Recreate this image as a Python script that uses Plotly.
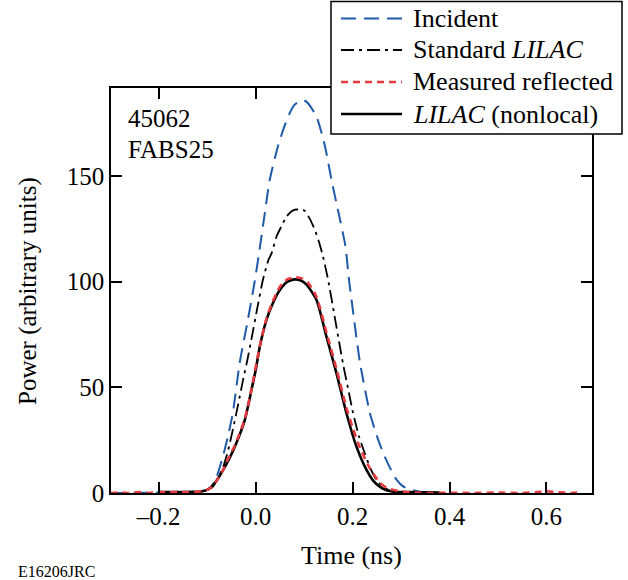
import plotly.graph_objects as go

# ---------------- data ----------------
t_incident = [-0.30, -0.25, -0.20, -0.15, -0.12, -0.10, -0.09, -0.08, -0.068, -0.057,
              -0.047, -0.033, -0.016, -0.002, 0.009, 0.019, 0.029, 0.046, 0.058, 0.070,
              0.080, 0.091, 0.100, 0.108, 0.1255, 0.143, 0.1565, 0.171, 0.185, 0.193,
              0.202, 0.215, 0.2355, 0.250, 0.263, 0.277, 0.291, 0.305, 0.324, 0.34, 0.35]
p_incident = [0.0, 0.0, 0.3, 0.5, 0.8, 1.5, 3.5, 8.0, 17.0, 27.0,
              38.0, 61.5, 82.0, 100.0, 116.6, 132.5, 148.0, 164.0, 172.5, 179.5,
              183.5, 185.3, 185.6, 184.3, 178.0, 164.0, 148.0, 132.5, 117.0, 100.0,
              84.0, 62.0, 38.0, 27.0, 19.0, 12.0, 6.2, 3.0, 1.4, 0.6, 0.3]

t_standard = [-0.20, -0.15, -0.12, -0.10, -0.088, -0.078, -0.067, -0.057, -0.047, -0.036,
              -0.026, -0.017, -0.009, 0.003, 0.015, 0.026, 0.033, 0.043, 0.054, 0.064,
              0.073, 0.081, 0.092, 0.101, 0.112, 0.122, 0.131, 0.139, 0.1495, 0.163,
              0.180, 0.191, 0.201, 0.213, 0.225, 0.237, 0.249, 0.265, 0.283, 0.30, 0.33]
p_standard = [0.5, 0.5, 0.6, 1.2, 3.0, 7.0, 12.4, 20.0, 30.0, 42.0,
              53.5, 63.0, 72.4, 87.0, 100.8, 110.0, 113.4, 121.3, 126.5, 130.8,
              133.0, 134.0, 134.0, 133.5, 129.5, 124.5, 118.5, 111.8, 100.8, 83.4,
              61.4, 49.0, 37.7, 27.0, 18.8, 11.5, 6.2, 2.5, 0.6, 0.3, 0.2]

t_measured = [-0.30, -0.28, -0.26, -0.24, -0.22, -0.20, -0.18, -0.16, -0.14, -0.12,
              -0.11, -0.10, -0.09, -0.08, -0.067, -0.055, -0.043, -0.0225, -0.0087, 0.0085,
              0.0223, 0.035, 0.050, 0.065, 0.081, 0.095, 0.108, 0.126, 0.146, 0.167,
              0.187, 0.200, 0.215, 0.236, 0.256, 0.27, 0.29, 0.31, 0.33, 0.36,
              0.40, 0.45, 0.50, 0.55, 0.58, 0.60, 0.62, 0.65, 0.67]
p_measured = [0.0, 0.3, 0.0, 0.4, 0.0, 0.5, 0.3, 0.5, 0.4, 0.6,
              1.0, 1.5, 3.0, 6.0, 11.0, 17.0, 22.5, 35.0, 49.0, 69.5,
              82.5, 90.5, 97.5, 101.0, 102.0, 101.5, 99.5, 92.5, 76.0, 58.5,
              40.5, 31.0, 21.5, 11.5, 5.0, 2.5, 1.2, 0.5, 0.2, 0.0,
              0.1, 0.0, 0.2, 0.0, 0.4, 0.8, 0.4, 0.0, 0.3]

t_nonlocal = [-0.20, -0.15, -0.12, -0.115, -0.10, -0.091, -0.08, -0.067, -0.055, -0.043,
              -0.0225, -0.0087, 0.0, 0.0085, 0.0223, 0.035, 0.0498, 0.065, 0.081, 0.093,
              0.105, 0.1255, 0.146, 0.1668, 0.1874, 0.208, 0.2287, 0.242, 0.256, 0.27,
              0.29, 0.32, 0.35, 0.38]
p_nonlocal = [0.5, 0.5, 0.5, 0.6, 1.5, 3.0, 6.0, 10.9, 16.0, 21.9,
              34.5, 48.7, 58.0, 69.2, 81.9, 89.5, 96.0, 99.8, 101.0, 100.5,
              98.5, 91.3, 74.0, 56.6, 37.7, 21.9, 10.9, 6.0, 3.0, 1.3,
              0.5, 0.4, 0.3, 0.2]

x_tickvals = [-0.2, 0.0, 0.2, 0.4, 0.6]
x_ticktext = ["\u20130.2", "0.0", "0.2", "0.4", "0.6"]
y_tickvals = [0, 50, 100, 150]
y_ticktext = ["0", "50", "100", "150"]

legend_names = ["Incident", "Standard <i>LILAC</i>", "Measured reflected", "<i>LILAC</i> (nonlocal)"]

# ---------------- styles ----------------
FONT = "Liberation Serif"
BLUE = "#1f5ba8"
RED = "#e8393f"
BLACK = "#000000"
styles = [
    dict(color=BLUE, width=2, dash="15px,8px"),
    dict(color=BLACK, width=1.8, dash="13px,5px,3px,5px"),
    dict(color=RED, width=2.6, dash="7px,5px"),
    dict(color=BLACK, width=2.6, dash="solid"),
]

fig = go.Figure()
fig.add_trace(go.Scatter(x=t_incident, y=p_incident, mode="lines", line=dict(**styles[0], shape="spline", smoothing=0.6)))
fig.add_trace(go.Scatter(x=t_standard, y=p_standard, mode="lines", line=dict(**styles[1], shape="spline", smoothing=0.5)))
fig.add_trace(go.Scatter(x=t_nonlocal, y=p_nonlocal, mode="lines", line=dict(**styles[3], shape="spline", smoothing=0.6)))
fig.add_trace(go.Scatter(x=t_measured, y=p_measured, mode="lines", line=dict(**styles[2], shape="spline", smoothing=0.6)))

axis_common = dict(
    showline=True, linecolor="black", linewidth=1.5, mirror="allticks",
    ticks="inside", ticklen=11, tickwidth=1.5, tickcolor="black",
    showgrid=False, zeroline=False,
    tickfont=dict(family=FONT, size=25, color="black"),
)
fig.update_xaxes(range=[-0.2985, 0.694], tickvals=x_tickvals, ticktext=x_ticktext, **axis_common)
fig.update_yaxes(range=[0, 191.5], tickvals=y_tickvals, ticktext=y_ticktext, **axis_common)

L, R, T, B = 111, 36, 88, 87
W, H = 628, 580
pw, ph = W - L - R, H - T - B
def px(xp):
    return (xp - L) / pw
def py(yp):
    return (H - B - yp) / ph

shapes = [dict(type="rect", xref="paper", yref="paper", x0=px(331), x1=px(622), y0=py(134), y1=py(1.5),
               fillcolor="white", line=dict(color="black", width=1.5), layer="above")]
annotations = []
row_y = [18.5, 50, 82, 114]
for name, st, ry in zip(legend_names, styles, row_y):
    shapes.append(dict(type="line", xref="paper", yref="paper", x0=px(341), x1=px(402), y0=py(ry), y1=py(ry),
                       line=dict(color=st["color"], width=st["width"], dash=st["dash"]), layer="above"))
    annotations.append(dict(text=name, xref="paper", yref="paper", x=px(411), y=py(ry), xanchor="left",
                            yanchor="middle", showarrow=False, font=dict(family=FONT, size=26, color="black")))

annotations += [
    dict(text="45062", xref="paper", yref="paper", x=px(126), y=py(118), xanchor="left", yanchor="middle",
         showarrow=False, font=dict(family=FONT, size=25, color="black")),
    dict(text="FABS25", xref="paper", yref="paper", x=px(126), y=py(149), xanchor="left", yanchor="middle",
         showarrow=False, font=dict(family=FONT, size=25, color="black")),
    dict(text="Time (ns)", xref="paper", yref="paper", x=0.5, y=py(555), xanchor="center", yanchor="middle",
         showarrow=False, font=dict(family=FONT, size=26, color="black")),
    dict(text="Power (arbitrary units)", xref="paper", yref="paper", x=px(28), y=py(291), xanchor="center",
         yanchor="middle", textangle=-90, showarrow=False, font=dict(family=FONT, size=25, color="black")),
    dict(text="E16206JRC", xref="paper", yref="paper", x=px(16), y=py(571), xanchor="left", yanchor="middle",
         showarrow=False, font=dict(family=FONT, size=16, color="black")),
]

fig.update_layout(
    width=W, height=H, margin=dict(l=L, r=R, t=T, b=B),
    paper_bgcolor="white", plot_bgcolor="white", showlegend=False,
    shapes=shapes, annotations=annotations,
    font=dict(family=FONT, size=25, color="black"),
)

fig.write_html("out.html")
